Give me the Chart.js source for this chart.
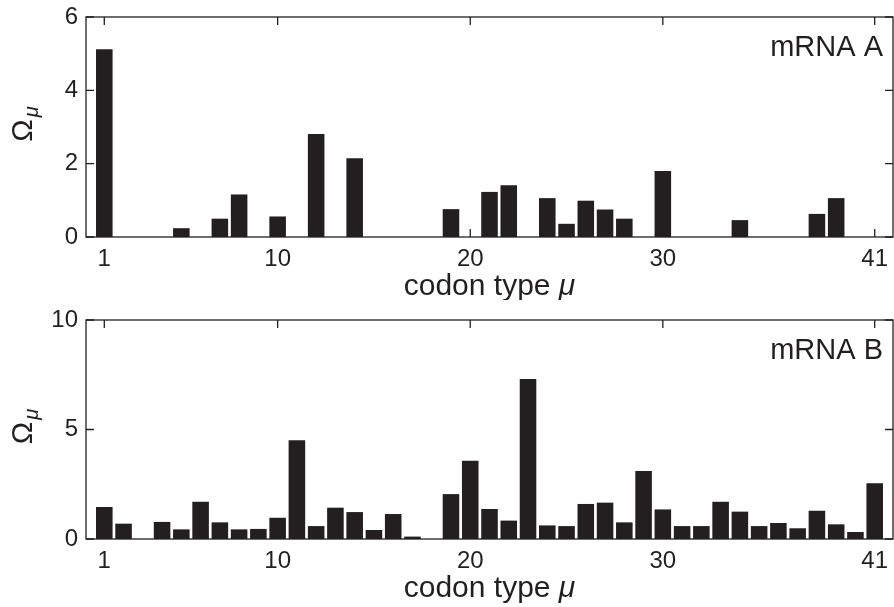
<!DOCTYPE html>
<html>
<head>
<meta charset="utf-8">
<script src="https://cdn.jsdelivr.net/npm/chart.js@4.4.0/dist/chart.umd.min.js"></script>
<style>
  body { margin: 0; background: #fff; }
  .panel { position: absolute; left: 0; }
</style>
</head>
<body>
<div class="panel" style="top:0"><canvas id="chartA" width="894" height="300"></canvas></div>
<div class="panel" style="top:300px"><canvas id="chartB" width="894" height="307"></canvas></div>
<script>
// codon types 1..41
const codons = [1, 2, 3, 4, 5, 6, 7, 8, 9, 10, 11, 12, 13, 14, 15, 16, 17, 18, 19, 20,
  21, 22, 23, 24, 25, 26, 27, 28, 29, 30, 31, 32, 33, 34, 35, 36, 37, 38, 39, 40, 41];

// Omega_mu, mRNA A
const omegaA = [5.12, 0, 0, 0, 0.24, 0, 0.50, 1.16, 0, 0.56,
  0, 2.81, 0, 2.15, 0, 0, 0, 0, 0.76, 0,
  1.23, 1.41, 0, 1.06, 0.36, 0.99, 0.75, 0.50, 0, 1.80,
  0, 0, 0, 0.46, 0, 0, 0, 0.63, 1.06, 0, 0];

// Omega_mu, mRNA B
const omegaB = [1.46, 0.70, 0, 0.78, 0.44, 1.70, 0.76, 0.44, 0.46, 0.97,
  4.51, 0.59, 1.43, 1.23, 0.41, 1.14, 0.11, 0, 2.05, 3.57,
  1.37, 0.84, 7.31, 0.62, 0.59, 1.60, 1.66, 0.76, 3.10, 1.35,
  0.59, 0.59, 1.70, 1.25, 0.59, 0.73, 0.49, 1.29, 0.67, 0.32, 2.55];

const xTicks = [1, 10, 20, 30, 41];
const yTicksA = [0, 2, 4, 6];
const yTicksB = [0, 5, 10];

const ink = '#231f20';
const fontFamily = '"Liberation Sans", Arial, Helvetica, sans-serif';

const decorPlugin = {
  id: 'decor',
  afterDraw(chart, args, opts) {
    const { ctx, chartArea: a, scales: { x, y } } = chart;
    ctx.save();
    ctx.strokeStyle = ink;
    ctx.fillStyle = ink;
    ctx.lineWidth = 1.3;
    ctx.strokeRect(a.left, a.top, a.right - a.left, a.bottom - a.top);

    // inward tick marks on all four sides
    ctx.beginPath();
    xTicks.forEach(v => {
      const px = x.getPixelForValue(v);
      ctx.moveTo(px, a.bottom); ctx.lineTo(px, a.bottom - 8);
      ctx.moveTo(px, a.top); ctx.lineTo(px, a.top + 8);
    });
    y.ticks.forEach(t => {
      const py = y.getPixelForValue(t.value);
      ctx.moveTo(a.left, py); ctx.lineTo(a.left + 8, py);
      ctx.moveTo(a.right, py); ctx.lineTo(a.right - 8, py);
    });
    ctx.stroke();

    // panel label
    ctx.font = '29px ' + fontFamily;
    ctx.textAlign = 'right';
    ctx.textBaseline = 'alphabetic';
    ctx.fillText(opts.label, a.right - 10, a.top + 39);

    // x axis title: "codon type " + italic mu
    const plain = 'codon type ';
    ctx.font = '30px ' + fontFamily;
    const w1 = ctx.measureText(plain).width;
    ctx.font = 'italic 30px ' + fontFamily;
    const w2 = ctx.measureText('μ').width;
    const cx = (a.left + a.right) / 2;
    const startX = cx - (w1 + w2) / 2;
    ctx.textAlign = 'left';
    ctx.font = '30px ' + fontFamily;
    ctx.fillText(plain, startX, a.bottom + 58);
    ctx.font = 'italic 30px ' + fontFamily;
    ctx.fillText('μ', startX + w1, a.bottom + 58);

    // y axis title: Omega with subscript mu, rotated
    const cy = (a.top + a.bottom) / 2 - 3;
    ctx.translate(32, cy);
    ctx.rotate(-Math.PI / 2);
    ctx.font = '30px ' + fontFamily;
    const wo = ctx.measureText('Ω').width;
    ctx.font = 'italic 20px ' + fontFamily;
    const wm = ctx.measureText('μ').width;
    const s = -(wo + wm + 2) / 2;
    ctx.font = '30px ' + fontFamily;
    ctx.fillText('Ω', s, 0);
    ctx.font = 'italic 20px ' + fontFamily;
    ctx.fillText('μ', s + wo + 2, 6);
    ctx.restore();
  }
};

function makeChart(id, values, yMax, yTickValues, label, topPad, xAxisHeight) {
  return new Chart(document.getElementById(id), {
    type: 'bar',
    data: {
      datasets: [{
        data: codons.map((c, i) => ({ x: c, y: values[i] })),
        backgroundColor: ink,
        borderWidth: 0,
        barPercentage: 0.86,
        categoryPercentage: 1.0
      }]
    },
    plugins: [decorPlugin],
    options: {
      responsive: false,
      animation: false,
      devicePixelRatio: 1,
      layout: { padding: { top: topPad, right: 1, left: 0, bottom: 0 } },
      plugins: {
        legend: { display: false },
        tooltip: { enabled: false },
        decor: { label: label }
      },
      scales: {
        x: {
          type: 'linear',
          offset: false,
          min: 0.05,
          max: 41.95,
          grid: { display: false, drawTicks: false },
          border: { display: false },
          afterBuildTicks: scale => { scale.ticks = xTicks.map(v => ({ value: v })); },
          afterFit: scale => {
            scale.height = xAxisHeight;
            scale.paddingLeft = 0;
            scale.paddingRight = 0;
          },
          ticks: {
            color: ink,
            padding: 8,
            maxRotation: 0,
            autoSkip: false,
            font: { family: fontFamily, size: 24 }
          }
        },
        y: {
          min: 0,
          max: yMax,
          grid: { display: false, drawTicks: false },
          border: { display: false },
          afterBuildTicks: scale => { scale.ticks = yTickValues.map(v => ({ value: v })); },
          afterFit: scale => {
            scale.width = 86;
            scale.paddingTop = 0;
            scale.paddingBottom = 0;
          },
          ticks: {
            color: ink,
            padding: 8,
            font: { family: fontFamily, size: 24 }
          }
        }
      }
    }
  });
}

makeChart('chartA', omegaA, 6, yTicksA, 'mRNA A', 17, 63);
makeChart('chartB', omegaB, 10, yTicksB, 'mRNA B', 20, 68);
</script>
</body>
</html>
